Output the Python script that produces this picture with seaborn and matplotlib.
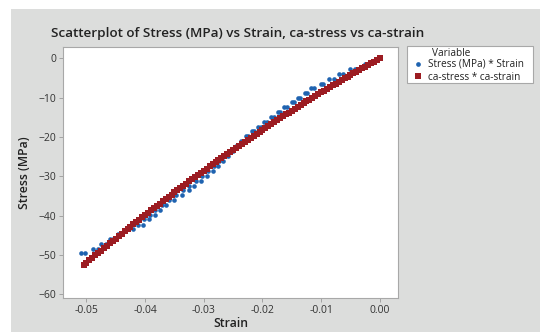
import matplotlib
matplotlib.use("Agg")
import matplotlib.pyplot as plt
import seaborn as sns
import pandas as pd
from matplotlib.patches import Rectangle
from matplotlib.lines import Line2D

# Measured stress-strain readings (stress logged in ~1.2 MPa steps)
stress_levels = [-0.3, -1.5, -2.8, -4.0, -5.2, -6.4, -7.6, -8.8, -10.0, -11.2,
                 -12.4, -13.7, -14.9, -16.1, -17.4, -18.6, -19.8, -21.0, -22.3,
                 -23.5, -24.8, -26.0, -27.3, -28.6, -29.9, -31.1, -32.4, -33.6,
                 -34.9, -36.1, -37.3, -38.6, -39.8, -41.0, -42.3, -43.5, -44.7,
                 -45.9, -47.2, -48.4, -49.6]
strain_a = [-0.0004, -0.0021, -0.0043, -0.0062, -0.0078, -0.0097, -0.0113, -0.0124,
            -0.0136, -0.0147, -0.0158, -0.0170, -0.0181, -0.0193, -0.0203, -0.0214,
            -0.0225, -0.0233, -0.0241, -0.0250, -0.0259, -0.0267, -0.0275, -0.0285,
            -0.0295, -0.0304, -0.0316, -0.0325, -0.0338, -0.0351, -0.0364, -0.0374,
            -0.0384, -0.0394, -0.0404, -0.0421, -0.0441, -0.0455, -0.0467, -0.0480,
            -0.0502]
strain_b = [-0.0009, -0.0026, -0.0051, -0.0069, -0.0086, -0.0101, -0.0117, -0.0128,
            -0.0140, -0.0150, -0.0164, -0.0174, -0.0185, -0.0197, -0.0207, -0.0218,
            -0.0228, -0.0237, -0.0245, -0.0255, -0.0264, -0.0274, -0.0283, -0.0293,
            -0.0303, -0.0313, -0.0326, -0.0335, -0.0348, -0.0360, -0.0372, -0.0383,
            -0.0392, -0.0402, -0.0412, -0.0430, -0.0447, -0.0460, -0.0475, -0.0489,
            -0.0510]

# Fitted curve (ca-strain, ca-stress)
ca_strain = [0.0, -0.0005, -0.001, -0.0015, -0.002, -0.0025, -0.003, -0.0035, -0.004,
             -0.0045, -0.005, -0.0055, -0.006, -0.0065, -0.007, -0.0075, -0.008,
             -0.0085, -0.009, -0.0095, -0.01, -0.0105, -0.011, -0.0115, -0.012,
             -0.0125, -0.013, -0.0135, -0.014, -0.0145, -0.015, -0.0155, -0.016,
             -0.0165, -0.017, -0.0175, -0.018, -0.0185, -0.019, -0.0195, -0.02,
             -0.0205, -0.021, -0.0215, -0.022, -0.0225, -0.023, -0.0235, -0.024,
             -0.0245, -0.025, -0.0255, -0.026, -0.0265, -0.027, -0.0275, -0.028,
             -0.0285, -0.029, -0.0295, -0.03, -0.0305, -0.031, -0.0315, -0.032,
             -0.0325, -0.033, -0.0335, -0.034, -0.0345, -0.035, -0.0355, -0.036,
             -0.0365, -0.037, -0.0375, -0.038, -0.0385, -0.039, -0.0395, -0.04,
             -0.0405, -0.041, -0.0415, -0.042, -0.0425, -0.043, -0.0435, -0.044,
             -0.0445, -0.045, -0.0455, -0.046, -0.0465, -0.047, -0.0475, -0.048,
             -0.0485, -0.049, -0.0495, -0.05, -0.0505]
ca_stress = [0.0, -0.41, -0.83, -1.24, -1.66, -2.08, -2.51, -2.93, -3.36, -3.79,
             -4.22, -4.65, -5.09, -5.53, -5.97, -6.41, -6.86, -7.30, -7.75, -8.20,
             -8.66, -9.11, -9.57, -10.03, -10.49, -10.96, -11.43, -11.90, -12.37,
             -12.84, -13.32, -13.79, -14.27, -14.76, -15.24, -15.73, -16.22, -16.71,
             -17.20, -17.69, -18.19, -18.69, -19.19, -19.70, -20.20, -20.71, -21.22,
             -21.74, -22.25, -22.77, -23.29, -23.81, -24.33, -24.86, -25.39, -25.92,
             -26.45, -26.98, -27.52, -28.06, -28.60, -29.15, -29.69, -30.24, -30.79,
             -31.34, -31.90, -32.45, -33.01, -33.57, -34.14, -34.70, -35.27, -35.84,
             -36.41, -36.98, -37.56, -38.14, -38.72, -39.30, -39.89, -40.48, -41.06,
             -41.66, -42.25, -42.85, -43.44, -44.05, -44.65, -45.25, -45.86, -46.47,
             -47.08, -47.69, -48.31, -48.93, -49.55, -50.17, -50.79, -51.42, -52.05,
             -52.68]

x_ticks = [-0.05, -0.04, -0.03, -0.02, -0.01, 0.00]
x_tick_labels = ["-0.05", "-0.04", "-0.03", "-0.02", "-0.01", "0.00"]
y_ticks = [0, -10, -20, -30, -40, -50, -60]

series_names = ["Stress (MPa) * Strain", "ca-stress * ca-strain"]
blue = "#1f63b0"
red = "#9c1c22"
bg = "#dcdddc"

measured = pd.DataFrame({
    "Strain": strain_a + strain_b,
    "Stress": stress_levels + stress_levels,
})
fitted = pd.DataFrame({"Strain": ca_strain, "Stress": ca_stress})

sns.set_theme(style="white")
plt.rcParams["font.family"] = ["Open Sans", "DejaVu Sans"]

W, H = 540, 332
fig = plt.figure(figsize=(W / 100, H / 100), dpi=100)
fig.patch.set_facecolor("white")
fig.add_artist(Rectangle((11 / W, 0), 1, 1 - 9 / H, transform=fig.transFigure,
                         facecolor=bg, edgecolor="none", zorder=0))

ax = fig.add_axes([63 / W, 34 / H, 335 / W, 251 / H])
ax.set_facecolor("white")

sns.scatterplot(data=measured, x="Strain", y="Stress", ax=ax, color=blue,
                marker="o", s=11, linewidth=0, legend=False, zorder=3)
sns.scatterplot(data=fitted, x="Strain", y="Stress", ax=ax, color=red,
                marker="s", s=15, linewidth=0, legend=False, zorder=4)

ax.set_xlim(-0.054, 0.0031)
ax.set_ylim(-61.0, 2.9)
ax.set_xticks(x_ticks)
ax.set_xticklabels(x_tick_labels)
ax.set_yticks(y_ticks)
ax.tick_params(axis="both", direction="out", length=3, width=0.6,
               color="#9a9a9a", labelsize=7.5, labelcolor="#333333", pad=2,
               bottom=True, left=True)
for sp in ax.spines.values():
    sp.set_color("#a8a8a8")
    sp.set_linewidth(0.8)

ax.set_xlabel("Strain", fontsize=8.8, fontweight="semibold", color="#222222",
              labelpad=1)
ax.set_ylabel("Stress (MPa)", fontsize=8.8, fontweight="semibold",
              color="#222222", labelpad=5)

fig.text(51 / W, 1 - 33 / H,
         "Scatterplot of Stress (MPa) vs Strain, ca-stress vs ca-strain",
         fontsize=9.7, fontweight="semibold", color="#222222",
         ha="left", va="center")

# Legend panel
fig.add_artist(Rectangle((407 / W, 1 - 83 / H), 126 / W, 37 / H,
                         transform=fig.transFigure, facecolor="white",
                         edgecolor="#a8a8a8", linewidth=0.8, zorder=2))
fig.text(432 / W, 1 - 54 / H, "Variable", fontsize=7.2, color="#222222",
         ha="left", va="center", zorder=3)
handles = [
    Line2D([], [], linestyle="none", marker="o", markersize=3.4,
           markerfacecolor=blue, markeredgewidth=0),
    Line2D([], [], linestyle="none", marker="s", markersize=3.8,
           markerfacecolor=red, markeredgewidth=0),
]
fig.legend(handles, series_names, loc="upper left",
           bbox_to_anchor=(414 / W, 1 - 59 / H), frameon=False, fontsize=7.2,
           handlelength=0.8, handletextpad=0.6, labelspacing=0.15,
           borderpad=0.0, borderaxespad=0.0, labelcolor="#222222")

fig.savefig("out.png", dpi=100, facecolor=fig.get_facecolor())
